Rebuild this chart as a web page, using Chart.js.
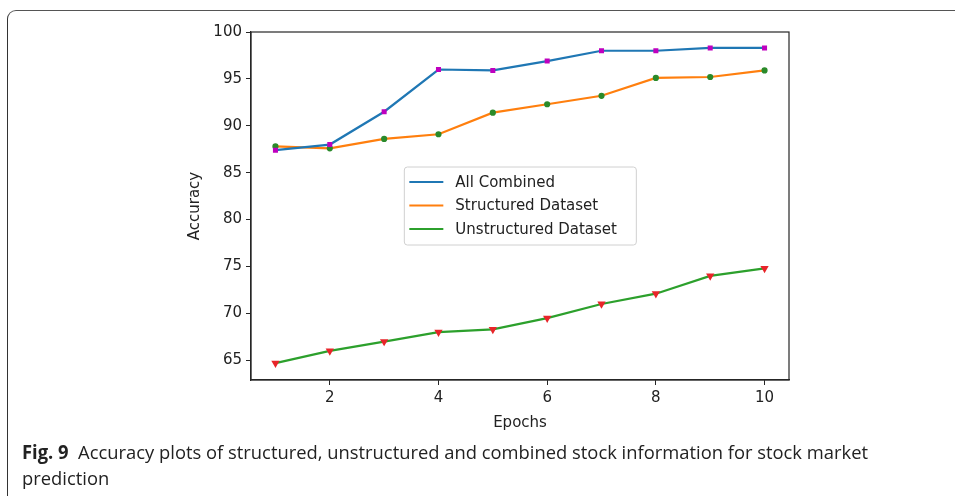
<!DOCTYPE html>
<html>
<head>
<meta charset="utf-8">
<script src="https://cdn.jsdelivr.net/npm/chart.js@4.4.1/dist/chart.umd.min.js"></script>
<style>
  html, body { margin: 0; padding: 0; background: #fff; }
  #wrap { position: relative; width: 955px; height: 496px; overflow: hidden; }
  #frame { position: absolute; left: 7px; top: 10px; width: 1000px; height: 520px;
           border-left: 1.5px solid #333; border-top: 1.5px solid #555; border-top-left-radius: 9px; }
  #c { position: absolute; left: 0; top: 0; }
  #cap { position: absolute; left: 22px; top: 439px; font-family: "Open Sans", sans-serif;
         font-size: 19px; line-height: 26px; color: #222; white-space: nowrap; transform-origin: 0 0; }
  #cap b { font-weight: bold; }
</style>
</head>
<body>
<div id="wrap">
  <div id="frame"></div>
  <canvas id="c" width="955" height="496"></canvas>
  <div id="cap"><span id="l1"><b>Fig. 9</b>&nbsp; Accuracy plots of structured, unstructured and combined stock information for stock market</span><br>prediction</div>
</div>
<script>
const epochs = [1, 2, 3, 4, 5, 6, 7, 8, 9, 10];
const allCombined = [87.4, 88.0, 91.5, 96.0, 95.9, 96.9, 98.0, 98.0, 98.3, 98.3];
const structured = [87.8, 87.6, 88.6, 89.1, 91.4, 92.3, 93.2, 95.1, 95.2, 95.9];
const unstructured = [64.7, 66.0, 67.0, 68.0, 68.3, 69.5, 71.0, 72.1, 74.0, 74.8];
const seriesLabels = ["All Combined", "Structured Dataset", "Unstructured Dataset"];
const xTicks = [2, 4, 6, 8, 10];
const yTicks = [65, 70, 75, 80, 85, 90, 95, 100];

const toPts = arr => arr.map((v, i) => ({ x: epochs[i], y: v }));
const FONT = "'DejaVu Sans', sans-serif";
const TXT = "#222";

const framePlugin = {
  id: 'frame',
  afterDraw(chart) {
    const { ctx, chartArea: a } = chart;
    ctx.save();
    ctx.strokeStyle = '#262626';
    ctx.lineWidth = 1.2;
    ctx.strokeRect(a.left, a.top, a.right - a.left, a.bottom - a.top);
    ctx.restore();
  }
};

const legendPlugin = {
  id: 'customLegend',
  afterDraw(chart) {
    const ctx = chart.ctx;
    const a = chart.chartArea;
    const bx = a.left + (a.right - a.left) * 0.285;
    const by = a.top + (a.bottom - a.top) * 0.388;
    const bw = 232, bh = 78;
    ctx.save();
    ctx.fillStyle = 'rgba(255,255,255,0.85)';
    ctx.strokeStyle = '#d0d0d0';
    ctx.lineWidth = 1;
    const r = 3;
    ctx.beginPath();
    ctx.moveTo(bx + r, by);
    ctx.arcTo(bx + bw, by, bx + bw, by + bh, r);
    ctx.arcTo(bx + bw, by + bh, bx, by + bh, r);
    ctx.arcTo(bx, by + bh, bx, by, r);
    ctx.arcTo(bx, by, bx + bw, by, r);
    ctx.closePath();
    ctx.fill();
    ctx.stroke();
    ctx.font = "15px " + FONT;
    ctx.textBaseline = 'middle';
    chart.data.datasets.forEach((ds, i) => {
      const y = by + 15 + i * 23.5;
      ctx.strokeStyle = ds.borderColor;
      ctx.lineWidth = 2.2;
      ctx.beginPath();
      ctx.moveTo(bx + 5, y);
      ctx.lineTo(bx + 39, y);
      ctx.stroke();
      ctx.fillStyle = TXT;
      ctx.fillText(ds.label, bx + 51, y + 1);
    });
    ctx.restore();
  }
};

new Chart(document.getElementById('c'), {
  type: 'line',
  data: {
    datasets: [
      { label: seriesLabels[0], data: toPts(allCombined), borderColor: '#1f77b4', borderWidth: 2.2,
        pointStyle: 'rect', pointRadius: 2, pointBackgroundColor: '#bf00bf', pointBorderColor: '#bf00bf', tension: 0 },
      { label: seriesLabels[1], data: toPts(structured), borderColor: '#ff7f0e', borderWidth: 2.2,
        pointStyle: 'circle', pointRadius: 2, pointBackgroundColor: '#2a8a2a', pointBorderColor: '#2a8a2a', tension: 0 },
      { label: seriesLabels[2], data: toPts(unstructured), borderColor: '#2ca02c', borderWidth: 2.2,
        pointStyle: 'triangle', rotation: 180, pointRadius: 2.6, pointBackgroundColor: '#e8252a', pointBorderColor: '#e8252a', tension: 0 }
    ]
  },
  options: {
    responsive: false,
    animation: false,
    layout: { padding: { left: 182, right: 166, top: 32, bottom: 60 } },
    plugins: { legend: { display: false }, tooltip: { enabled: false } },
    scales: {
      x: {
        type: 'linear', min: 0.55, max: 10.45,
        afterBuildTicks: s => { s.ticks = xTicks.map(v => ({ value: v })); },
        afterFit: s => { s.height = 56; },
        grid: { display: true, drawOnChartArea: false, drawTicks: true, tickLength: 5, color: '#262626' },
        border: { display: true, color: '#262626', width: 1.2 },
        ticks: { color: TXT, font: { family: FONT, size: 15 }, padding: 4, maxRotation: 0 },
        title: { display: true, text: 'Epochs', color: TXT, font: { family: FONT, size: 15 }, padding: { top: 3 } }
      },
      y: {
        type: 'linear', min: 62.9, max: 100,
        afterBuildTicks: s => { s.ticks = yTicks.map(v => ({ value: v })); },
        afterFit: s => { s.width = 69; },
        grid: { display: true, drawOnChartArea: false, drawTicks: true, tickLength: 5, color: '#262626' },
        border: { display: true, color: '#262626', width: 1.2 },
        ticks: { color: TXT, font: { family: FONT, size: 15 }, padding: 4 },
        title: { display: true, text: 'Accuracy', color: TXT, font: { family: FONT, size: 15 }, padding: { bottom: 0 } }
      }
    }
  },
  plugins: [framePlugin, legendPlugin]
});

const cap = document.getElementById('cap');
const w = document.getElementById('l1').getBoundingClientRect().width;
cap.style.transform = 'scaleX(' + (846 / w) + ')';
</script>
</body>
</html>
